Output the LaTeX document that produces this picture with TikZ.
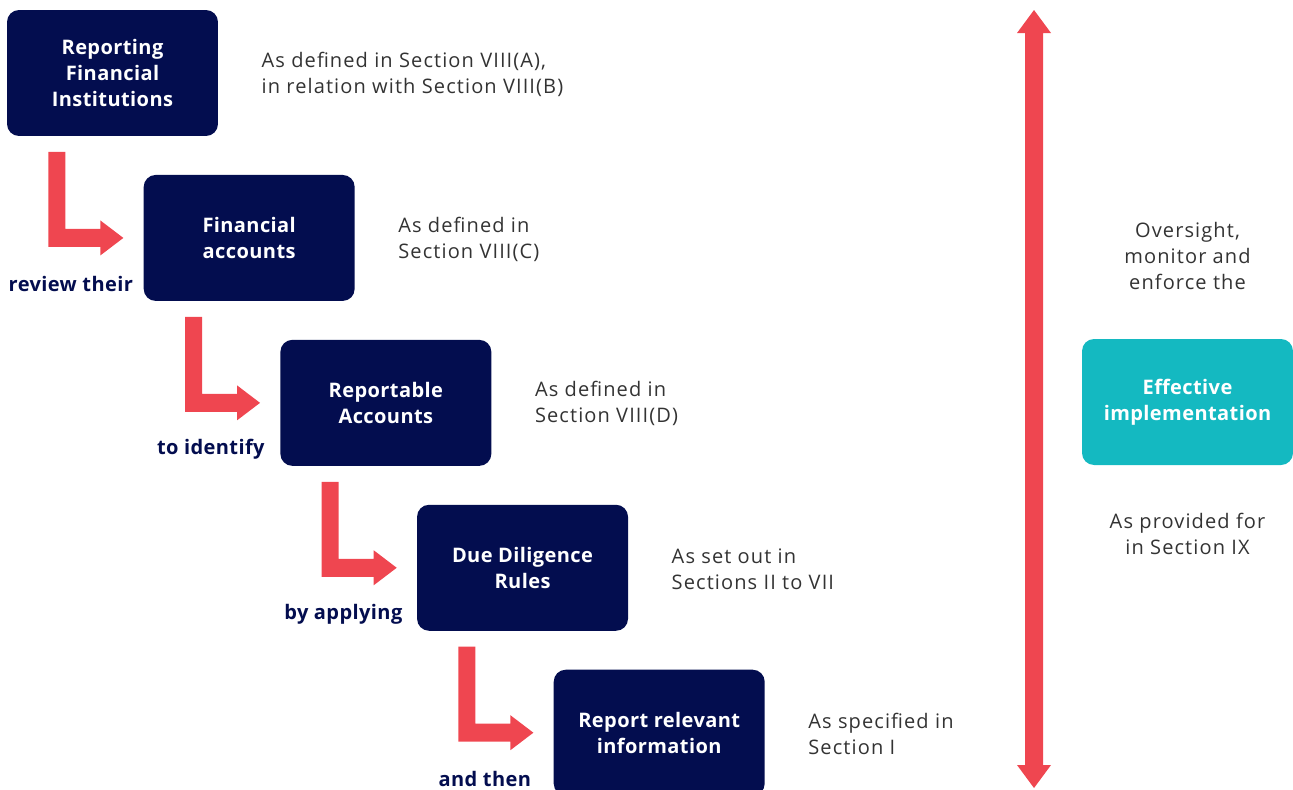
\documentclass[tikz,border=0pt]{standalone}
\usepackage{fontspec}
\setmainfont{Open Sans}
\newfontfamily\descfont[LetterSpace=5.5]{Open Sans}
\newfontfamily\boxfont[LetterSpace=2]{Open Sans}
\usepackage{tikz}
\usetikzlibrary{chains,positioning}

\definecolor{navy}{RGB}{3,13,79}
\definecolor{redarrow}{RGB}{239,70,80}
\definecolor{tealbox}{RGB}{20,185,193}
\definecolor{greytext}{RGB}{51,51,51}

\begin{document}
\begin{tikzpicture}[x=0.02cm,y=-0.02cm]
		\tikzstyle{every node}=[font=\fontsize{11.4}{14.8}\selectfont]
		\tikzstyle{stepbox}=[fill=navy,rounded corners=0.24cm,text=white,font=\boxfont\fontsize{11.4}{14.8}\selectfont\bfseries,
		align=center,minimum width=4.22cm,minimum height=2.52cm,inner sep=0pt]
		\tikzstyle{effbox}=[stepbox,fill=tealbox]
		\tikzstyle{desc}=[text=greytext,font=\descfont\fontsize{11.4}{14.8}\selectfont,align=left,anchor=west,inner sep=0pt]
		\tikzstyle{sidetext}=[text=greytext,font=\descfont\fontsize{11.4}{14.8}\selectfont,align=center,inner sep=0pt]
		\tikzstyle{steplabel}=[text=navy,font=\boxfont\fontsize{11.4}{14.8}\selectfont\bfseries,anchor=east,inner sep=0pt]
		
		\useasboundingbox (0,0) rectangle (1293,789);
		
		%% Draw the steps
		\begin{scope}[start chain=steps going below right,node distance=0.765cm and -1.5cm]
		
		\node [on chain=steps,stepbox,at={(112.5,73)}] (inst) {Reporting\\Financial\\Institutions};
		\node [on chain=steps,stepbox] (acc) {Financial\\accounts};
		\node [on chain=steps,stepbox] (rep) {Reportable\\Accounts};
		\node [on chain=steps,stepbox] (dd) {Due Diligence\\Rules};
		\node [on chain=steps,stepbox] (info) {Report relevant\\information};
		
		\end{scope}
		
		%% Descriptions
		\node [desc] (dinst) at ([shift={(43,1)}]inst.east) {As defined in Section VIII(A),\\in relation with Section VIII(B)};
		\node [desc] (dacc) at ([shift={(43,1)}]acc.east) {As defined in\\Section VIII(C)};
		\node [desc] (drep) at ([shift={(43,1)}]rep.east) {As defined in\\Section VIII(D)};
		\node [desc] (ddd) at ([shift={(43,1)}]dd.east) {As set out in\\Sections II to VII};
		\node [desc] (dinfo) at ([shift={(43,1)}]info.east) {As specified in\\Section I};
		
		%% L-shaped arrows and their labels
		\foreach \dst/\lbl/\gap/\txt in {acc/lacc/10/review their,rep/lrep/15/to identify,dd/ldd/14/by applying,info/linfo/22/and then}{
			\begin{scope}[shift={(\dst.west)}]
			\fill[redarrow] (-95,-86) -- (-78,-86) -- (-78,-9) -- (-43,-9) -- (-43,-17.5) -- (-20,0)
			-- (-43,17.5) -- (-43,9) -- (-95,9) -- cycle;
			\end{scope}
			\node [steplabel] (\lbl) at ([shift={(-\gap,-17)}]\dst.south west) {\txt};
		}
		
		%% Effective implementation
		\node [effbox] (eff) at (1187.5,402) {Effective\\implementation};
		\node [sidetext] (oversight) at (1187.5,256) {Oversight,\\monitor and\\enforce the};
		\node [sidetext] (provided) at (1187.5,534) {As provided for\\in Section IX};
		
		%% Double arrow
		\coordinate (top) at (1034,10);
		\coordinate (bottom) at (1034,788);
		\fill[redarrow] (top) -- (1051,33) -- (1043,33) -- (1043,765) -- (1051,765) -- (bottom)
		-- (1017,765) -- (1025,765) -- (1025,33) -- (1017,33) -- cycle;
		
\end{tikzpicture}
\end{document}
